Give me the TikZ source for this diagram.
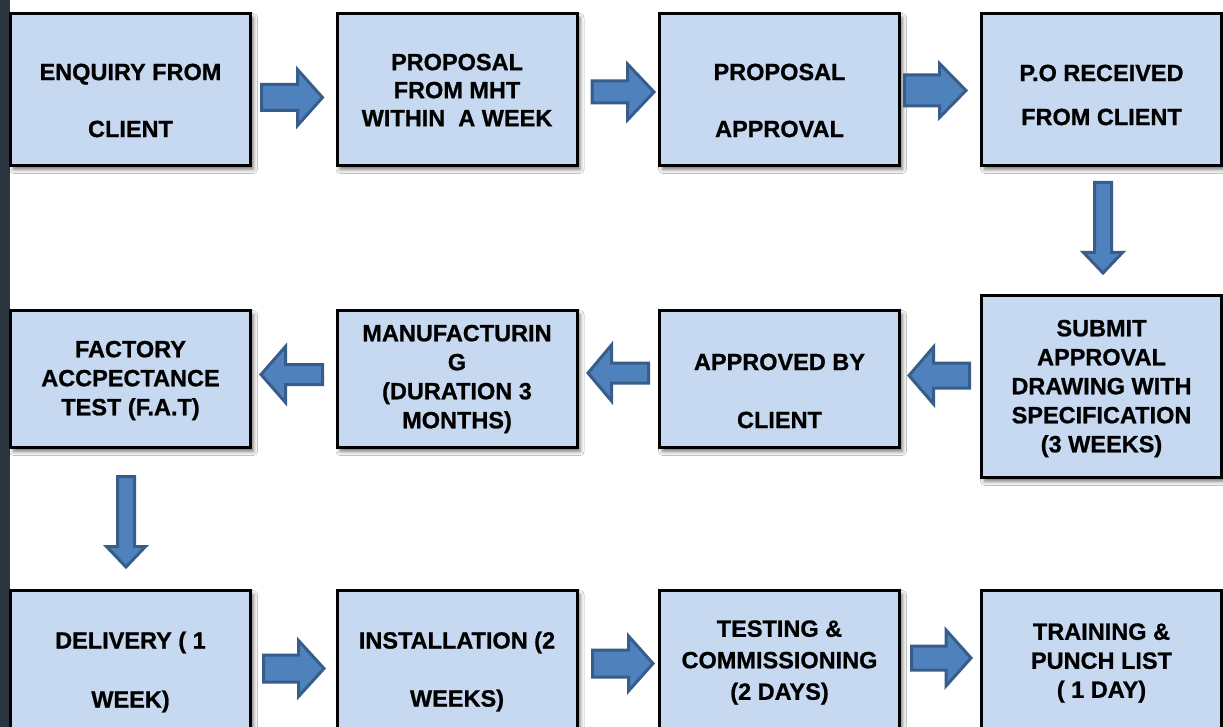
\documentclass[tikz,border=0pt]{standalone}
\usepackage{fontspec}
\setmainfont{Liberation Sans}
\newfontfamily\boxfont{Liberation Sans Bold}[FakeBold=0.9]
\usetikzlibrary{calc,shadows.blur}
\definecolor{boxfill}{HTML}{C6D9F1}
\definecolor{arrfill}{HTML}{4F81BD}
\definecolor{arrline}{HTML}{385D8A}
\definecolor{stripcol}{HTML}{2B3540}
% right block arrow: from, to, tail gap, tip gap, dy(down), shaft half, head half, head length
\newcommand\rblock[8]{%
\path[barrow] let \p1=(#1.east),\p2=(#2.west) in
 ({\x1+1pt*(#3)},{\y1-1pt*(#5)+1pt*(#6)}) --
 ({\x2-1pt*(#4)-1pt*(#8)},{\y1-1pt*(#5)+1pt*(#6)}) --
 ({\x2-1pt*(#4)-1pt*(#8)},{\y1-1pt*(#5)+1pt*(#7)}) --
 ({\x2-1pt*(#4)},{\y1-1pt*(#5)}) --
 ({\x2-1pt*(#4)-1pt*(#8)},{\y1-1pt*(#5)-1pt*(#7)}) --
 ({\x2-1pt*(#4)-1pt*(#8)},{\y1-1pt*(#5)-1pt*(#6)}) --
 ({\x1+1pt*(#3)},{\y1-1pt*(#5)-1pt*(#6)}) -- cycle;}
% left block arrow
\newcommand\lblock[8]{%
\path[barrow] let \p1=(#1.west),\p2=(#2.east) in
 ({\x1-1pt*(#3)},{\y1-1pt*(#5)+1pt*(#6)}) --
 ({\x2+1pt*(#4)+1pt*(#8)},{\y1-1pt*(#5)+1pt*(#6)}) --
 ({\x2+1pt*(#4)+1pt*(#8)},{\y1-1pt*(#5)+1pt*(#7)}) --
 ({\x2+1pt*(#4)},{\y1-1pt*(#5)}) --
 ({\x2+1pt*(#4)+1pt*(#8)},{\y1-1pt*(#5)-1pt*(#7)}) --
 ({\x2+1pt*(#4)+1pt*(#8)},{\y1-1pt*(#5)-1pt*(#6)}) --
 ({\x1-1pt*(#3)},{\y1-1pt*(#5)-1pt*(#6)}) -- cycle;}
% down block arrow: from, to, top gap, tip gap, dx, shaft half, head half, head length
\newcommand\dblock[8]{%
\path[barrow] let \p1=(#1.south),\p2=(#2.north) in
 ({\x1+1pt*(#5)-1pt*(#6)},{\y1-1pt*(#3)}) --
 ({\x1+1pt*(#5)+1pt*(#6)},{\y1-1pt*(#3)}) --
 ({\x1+1pt*(#5)+1pt*(#6)},{\y2+1pt*(#4)+1pt*(#8)}) --
 ({\x1+1pt*(#5)+1pt*(#7)},{\y2+1pt*(#4)+1pt*(#8)}) --
 ({\x1+1pt*(#5)},{\y2+1pt*(#4)}) --
 ({\x1+1pt*(#5)-1pt*(#7)},{\y2+1pt*(#4)+1pt*(#8)}) --
 ({\x1+1pt*(#5)-1pt*(#6)},{\y2+1pt*(#4)+1pt*(#8)}) -- cycle;}
\begin{document}
\begin{tikzpicture}[x=1pt,y=-1pt,
  box/.style={draw=black, line width=3pt, fill=boxfill, minimum width=240pt, inner sep=0pt,
    blur shadow={shadow xshift=3pt,shadow yshift=-4pt,shadow blur radius=4pt,shadow opacity=55}},
  txt/.style={font=\fontsize{23.5}{29}\selectfont\boxfont, align=center, inner sep=0pt, text=black},
  barrow/.style={draw=arrline, line width=3pt, fill=arrfill, line join=miter}]
\useasboundingbox (0,0) rectangle (1223,727);
\clip (0,0) rectangle (1223,727);
\fill[white] (0,0) rectangle (1223,727);
\fill[stripcol] (0,0) rectangle (10,727);
% row 1
\node[box, minimum height=152pt] (b1) at (130.5,89.5) {};
\node[box, minimum height=152pt] (b2) at (457,89.5) {};
\node[box, minimum height=152pt] (b3) at (779.5,89.5) {};
\node[box, minimum height=152pt] (b4) at (1101.5,89.5) {};
% row 2
\node[box, minimum height=182pt] (b5) at (1101.5,386.5) {};
\node[box, minimum height=137pt] (b6) at (779.5,379) {};
\node[box, minimum height=137pt] (b7) at (457,379) {};
\node[box, minimum height=137pt] (b8) at (130.5,379) {};
% row 3
\node[box, minimum height=152pt] (b9) at (130.5,666.5) {};
\node[box, minimum height=152pt] (b10) at (457,666.5) {};
\node[box, minimum height=152pt] (b11) at (779.5,666.5) {};
\node[box, minimum height=152pt] (b12) at (1101.5,666.5) {};
% texts
\node[txt] (t1) at (130.5,100.5) {ENQUIRY FROM\\[28pt]CLIENT};
\node[txt] (t2) at (457,90) {PROPOSAL\\[-1pt]FROM MHT\\[-1pt]WITHIN\ \ A WEEK};
\node[txt] (t3) at (779.5,100.5) {PROPOSAL\\[28pt]APPROVAL};
\node[txt] (t4) at (1101.5,95) {P.O RECEIVED\\[15pt]FROM CLIENT};
\node[txt] (t5) at (1101.5,388.5) {SUBMIT\\APPROVAL\\DRAWING WITH\\SPECIFICATION\\(3 WEEKS)};
\node[txt] (t6) at (779.5,391) {APPROVED BY\\[29pt]CLIENT};
\node[txt] (t7) at (457,379) {MANUFACTURIN\\G\\(DURATION 3\\MONTHS)};
\node[txt] (t8) at (130.5,380.5) {FACTORY\\ACCPECTANCE\\TEST (F.A.T)};
\node[txt] (t9) at (130.5,672) {DELIVERY ( 1\\[30pt]WEEK)};
\node[txt] (t10) at (457,671.5) {INSTALLATION (2\\[29pt]WEEKS)};
\node[txt] (t11) at (779.5,662.5) {TESTING \&\\[2.5pt]COMMISSIONING\\[2.5pt](2 DAYS)};
\node[txt] (t12) at (1101.5,663) {TRAINING \&\\PUNCH LIST\\( 1 DAY)};
% arrows
\rblock{b1}{b2}{9.5}{13}{8}{13}{28}{25}
\rblock{b2}{b3}{13.5}{4}{2.5}{11}{28}{26.5}
\rblock{b3}{b4}{3.5}{14}{1}{15.5}{27}{26.5}
\dblock{b4}{b5}{15.5}{21}{1.5}{8.5}{19.5}{20.5}
\lblock{b5}{b6}{10.5}{8}{-11}{12.5}{28.5}{24.5}
\lblock{b6}{b7}{9.5}{9.5}{-6}{10}{28}{23.5}
\lblock{b7}{b8}{13}{9}{-4.5}{10}{28}{24.5}
\dblock{b8}{b9}{27.5}{22}{-4.5}{8.5}{19.5}{20.5}
\rblock{b9}{b10}{11.5}{11.5}{2}{13.5}{28}{25.5}
\rblock{b10}{b11}{14}{5}{-3}{13.5}{27.5}{24.5}
\rblock{b11}{b12}{10.5}{9}{-8.5}{12}{28}{25}
\end{tikzpicture}
\end{document}
